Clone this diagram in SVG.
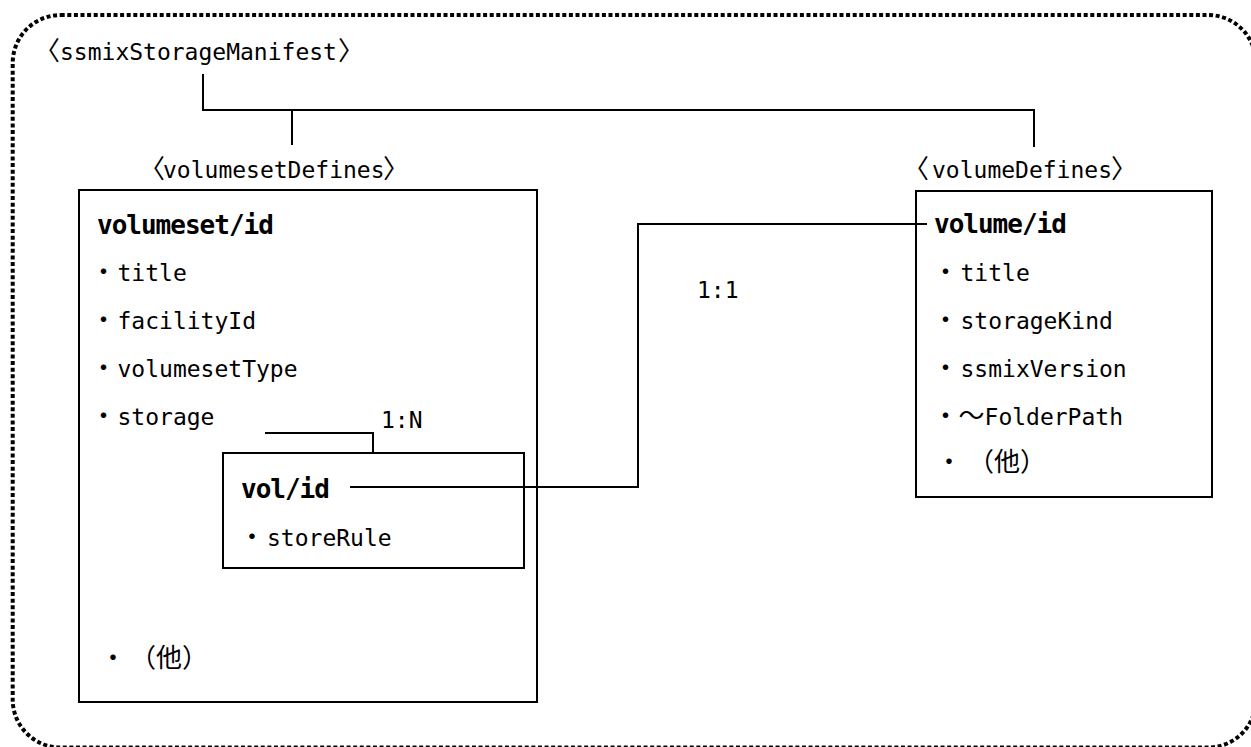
<svg xmlns="http://www.w3.org/2000/svg" width="1251" height="747" viewBox="0 0 1251 747">
<style>
  .t { font-family: 'DejaVu Sans Mono', 'Noto Sans CJK JP', monospace; font-size: 23px; fill: #000; }
  .b { font-family: 'DejaVu Sans Mono', 'Noto Sans CJK JP', monospace; font-size: 26px; font-weight: bold; letter-spacing: -1px; fill: #000; }
  .cjk { font-family: 'Noto Sans CJK JP', sans-serif; font-size: 26px; }
  .box { fill: #fff; stroke: #000; stroke-width: 2; }
  .line { fill: none; stroke: #000; stroke-width: 2; }
  .frame { fill: none; stroke: #000; stroke-width: 4; stroke-dasharray: 4 2.6; }
</style>
<rect x="0" y="0" width="1251" height="747" fill="#fff"/>
<g id="frame">
  <rect class="frame" x="12.7" y="15" width="1243.3" height="732.5" rx="48" ry="48"/>
  <text class="t" x="34" y="60"><tspan class="cjk" x="34">〈</tspan><tspan x="60">ssmixStorageManifest</tspan><tspan class="cjk" x="338">〉</tspan></text>
</g>
<g id="volumesetDefines">
  <text class="t" y="178"><tspan class="cjk" x="139">〈</tspan><tspan x="163">volumesetDefines</tspan><tspan class="cjk" x="383">〉</tspan></text>
  <rect class="box" x="79" y="190" width="458" height="512"/>
  <text class="b" x="97" y="234">volumeset/id</text>
  <text class="t" y="281"><tspan class="cjk" x="90.5">・</tspan><tspan dx="1">title</tspan></text>
  <text class="t" y="329"><tspan class="cjk" x="90.5">・</tspan><tspan dx="1">facilityId</tspan></text>
  <text class="t" y="377"><tspan class="cjk" x="90.5">・</tspan><tspan dx="1">volumesetType</tspan></text>
  <text class="t" y="425"><tspan class="cjk" x="90.5">・</tspan><tspan dx="1">storage</tspan></text>
  <text class="t" y="667"><tspan class="cjk" x="100">・</tspan><tspan class="cjk" x="130">（他）</tspan></text>
</g>
<g id="vol">
  <rect class="box" x="223" y="453" width="301" height="115"/>
  <text class="b" x="241" y="498">vol/id</text>
  <text class="t" y="546"><tspan class="cjk" x="239">・</tspan><tspan dx="2">storeRule</tspan></text>
</g>
<g id="volumeDefines">
  <text class="t" y="178"><tspan class="cjk" x="903">〈</tspan><tspan x="932">volumeDefines</tspan><tspan class="cjk" x="1111">〉</tspan></text>
  <rect class="box" x="916" y="191" width="296" height="306"/>
  <text class="b" x="934" y="233">volume/id</text>
  <text class="t" y="281"><tspan class="cjk" x="932.5">・</tspan><tspan dx="2">title</tspan></text>
  <text class="t" y="329"><tspan class="cjk" x="932.5">・</tspan><tspan dx="2">storageKind</tspan></text>
  <text class="t" y="377"><tspan class="cjk" x="932.5">・</tspan><tspan dx="2">ssmixVersion</tspan></text>
  <text class="t" y="425"><tspan class="cjk" x="932.5">・</tspan><tspan class="cjk">～</tspan><tspan>FolderPath</tspan></text>
  <text class="t" y="471"><tspan class="cjk" x="936">・</tspan><tspan class="cjk" x="968">（他）</tspan></text>
</g>
<g id="connectors">
  <path class="line" d="M203,74 V110 H1034 V147"/>
  <path class="line" d="M292,110 V145"/>
  <path class="line" d="M265,433 H373 V453"/>
  <path class="line" d="M350,487 H638 V224 H927"/>
  <text class="t" x="381" y="428">1:N</text>
  <text class="t" x="697" y="298">1:1</text>
</g>
</svg>
